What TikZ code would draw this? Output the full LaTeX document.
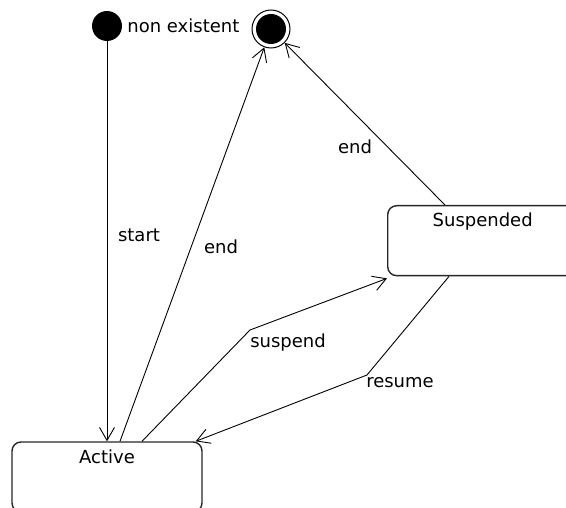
\documentclass[tikz,border=0pt]{standalone}
\usepackage{fontspec}
\setmainfont{DejaVu Sans}
\usetikzlibrary{arrows.meta,calc,positioning}
\tikzstyle{state}=[rectangle, draw=black!85, rounded corners=9pt, line width=1.4, minimum width=190pt, minimum height=70pt]
\tikzstyle{init}=[circle, fill=black, minimum size=30pt, inner sep=0pt]
\tikzstyle{fin}=[circle, draw=black, line width=1, minimum size=38pt, inner sep=0pt]
\tikzstyle{tr}=[line width=0.9, -{Straight Barb[length=13pt, width=15pt]}]
\tikzstyle{lbl}=[font=\fontsize{18}{21}\selectfont, inner sep=1pt]

\begin{document}
\begin{tikzpicture}[x=1pt, y=-1pt]
    \useasboundingbox (0,0) rectangle (566,508);

    \node[init] at (107,26) (init) {};
    \node[lbl, right=4pt of init] (initl) {non existent};
    \node[fin] at (271,29) (fin) {};
    \node[init, minimum size=30pt] at (fin) (finc) {};

    \node[state] at (107,477) (active) {};
    \node[lbl, anchor=north, yshift=-7pt] at (active.north) (activel) {Active};
    \node[state, anchor=north west] at (387,205) (susp) {};
    \node[lbl, anchor=north, yshift=-7pt] at (susp.north) (suspl) {Suspended};

    \coordinate (b1) at (250,330);
    \coordinate (b2) at (367,375);

    \draw[tr] (init) -- (active.north);
    \draw[tr] ($(active.north)+(13,0)$) -- (fin);
    \draw[tr] ($(active.north)+(35,0)$) -- (b1) -- ($(susp.south west)+(0,2)$);
    \draw[tr] ($(susp.south west)+(62,0)$) -- (b2) -- ($(active.north east)+(-7,0)$);
    \draw[tr] ($(susp.north west)+(58,0)$) -- (fin);

    \node[lbl] at (139,235) (startl) {start};
    \node[lbl] at (221,247) (endal) {end};
    \node[lbl] at (288,343) (suspendl) {suspend};
    \node[lbl] at (400,383) (resumel) {resume};
    \node[lbl] at (355,147) (endsl) {end};
\end{tikzpicture}
\end{document}
